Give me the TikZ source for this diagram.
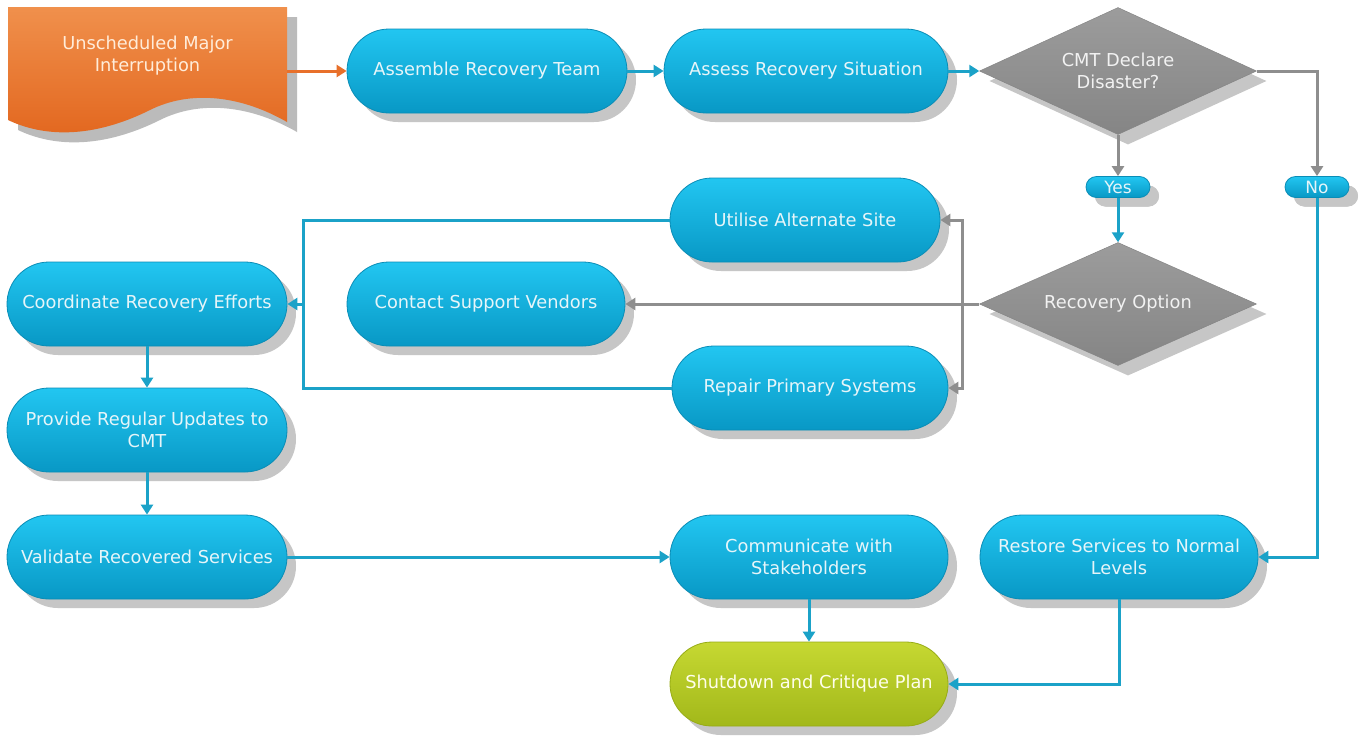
\documentclass[tikz,border=0pt]{standalone}
\usepackage{fontspec}
\setmainfont{DejaVu Sans}
\usetikzlibrary{shapes.geometric,arrows.meta,shadows}
\definecolor{cyanT}{HTML}{22C6F1}
\definecolor{cyanB}{HTML}{0898C5}
\definecolor{cyanD}{HTML}{0A8DB6}
\definecolor{lineC}{HTML}{1BA2C8}
\definecolor{grayL}{HTML}{8E8E8E}
\definecolor{shad}{HTML}{C6C6C6}
\definecolor{txt}{HTML}{E6F5F9}
\definecolor{dmT}{HTML}{9C9C9C}
\definecolor{dmB}{HTML}{858585}
\definecolor{docT}{HTML}{F0904C}
\definecolor{docB}{HTML}{E2661E}
\definecolor{docL}{HTML}{E8702A}
\definecolor{grT}{HTML}{C6D832}
\definecolor{grB}{HTML}{A2B81A}
\definecolor{grD}{HTML}{97AC16}
\tikzset{
  x=1pt, y=-1pt,
  pill/.style={draw=cyanD, line width=0.8pt, top color=cyanT, bottom color=cyanB,
    rounded corners=42pt, minimum width=280pt, minimum height=84pt, inner sep=0pt,
    align=center, text=txt, font=\fontsize{17.8}{22}\selectfont,
    drop shadow={shadow xshift=9pt, shadow yshift=-9pt, fill=shad, opacity=1}},
  greenpill/.style={pill, draw=grD, top color=grT, bottom color=grB, text=white!92!yellow},
  smallpill/.style={pill, rounded corners=10.5pt, minimum width=64pt, minimum height=21pt,
    font=\fontsize{17}{18}\selectfont,
    drop shadow={shadow xshift=9pt, shadow yshift=-9pt, fill=shad, opacity=1}},
  decision/.style={diamond, draw=dmB, line width=0.5pt, top color=dmT, bottom color=dmB,
    inner sep=0pt, aspect=2.2, align=center, text=white!90!gray,
    font=\fontsize{17.8}{22}\selectfont,
    drop shadow={shadow xshift=10pt, shadow yshift=-10pt, fill=shad, opacity=1}},
  cline/.style={draw=lineC, line width=3pt},
  carrow/.style={cline, -{Triangle[width=12pt,length=10pt]}},
  garrow/.style={draw=grayL, line width=3pt, -{Triangle[width=12pt,length=10pt]}},
  oarrow/.style={draw=docL, line width=3pt, -{Triangle[width=12pt,length=10pt]}},
}
\begin{document}
\begin{tikzpicture}
\fill[white] (0,0) rectangle (1364,740);
\useasboundingbox (0,0) rectangle (1364,740);
% document shape
\fill[shad!85!gray] (18,17) -- (297,17) -- (297,132)
   .. controls (250,105) and (200,100) .. (160,120)
   .. controls (110,145) and (60,150) .. (18,130) -- cycle;
\shade[top color=docT, bottom color=docB] (8,7) -- (287,7) -- (287,122)
   .. controls (240,95) and (190,90) .. (150,110)
   .. controls (100,135) and (50,140) .. (8,120) -- cycle;
\node[text=white!85!orange, align=center, font=\fontsize{17.8}{22}\selectfont,
      minimum width=279pt, minimum height=30pt, inner sep=0pt]
      (doc) at (147.5,56) {Unscheduled Major\\Interruption};
\coordinate (docE) at (287,71);

\node[pill] (assemble) at (487,71) {Assemble Recovery Team};
\node[pill, minimum width=284pt] (assess) at (806,71) {Assess Recovery Situation};
\node[decision, minimum width=277pt, minimum height=127pt] (decl) at (1118,71) {CMT Declare\\Disaster?};
\node[smallpill] (yes) at (1118,187) {Yes};
\node[smallpill] (no) at (1317,187) {No};
\node[decision, minimum width=277pt, minimum height=123pt] (ropt) at (1118,304) {Recovery Option};
\node[pill, minimum width=270pt] (utilise) at (805,220) {Utilise Alternate Site};
\node[pill, minimum width=278pt] (contact) at (486,304) {Contact Support Vendors};
\node[pill, minimum width=276pt] (repair) at (810,388) {Repair Primary Systems};
\node[pill] (coord) at (147,304) {Coordinate Recovery Efforts};
\node[pill] (provide) at (147,430) {Provide Regular Updates to\\CMT};
\node[pill] (validate) at (147,557) {Validate Recovered Services};
\node[pill, minimum width=278pt] (comm) at (809,557) {Communicate with\\Stakeholders};
\node[pill, minimum width=278pt] (restore) at (1119,557) {Restore Services to Normal\\Levels};
\node[greenpill, minimum width=278pt] (shut) at (809,684) {Shutdown and Critique Plan};

\coordinate (j) at (962,304);
\coordinate (k) at (303,304);

\draw[oarrow] (docE) -- (assemble.west);
\draw[carrow] (assemble) -- (assess);
\draw[carrow] (assess) -- (decl.west);
\draw[garrow] (decl.south) -- (yes.north);
\draw[garrow] (decl.east) -| (no.north);
\draw[carrow] (yes.south) -- (ropt.north);
\draw[garrow] (ropt.west) -- (contact.east);
\draw[garrow] (j) |- (utilise.east);
\draw[garrow] (j) |- (repair.east);
\draw[cline] (utilise.west) -| (k);
\draw[cline] (repair.west) -| (k);
\draw[carrow] (k) -- (coord.east);
\draw[carrow] (coord) -- (provide);
\draw[carrow] (provide) -- (validate);
\draw[carrow] (validate) -- (comm);
\draw[carrow] (comm) -- (shut);
\draw[carrow] (no.south) |- (restore.east);
\draw[carrow] (restore.south) |- (shut.east);
\end{tikzpicture}
\end{document}
